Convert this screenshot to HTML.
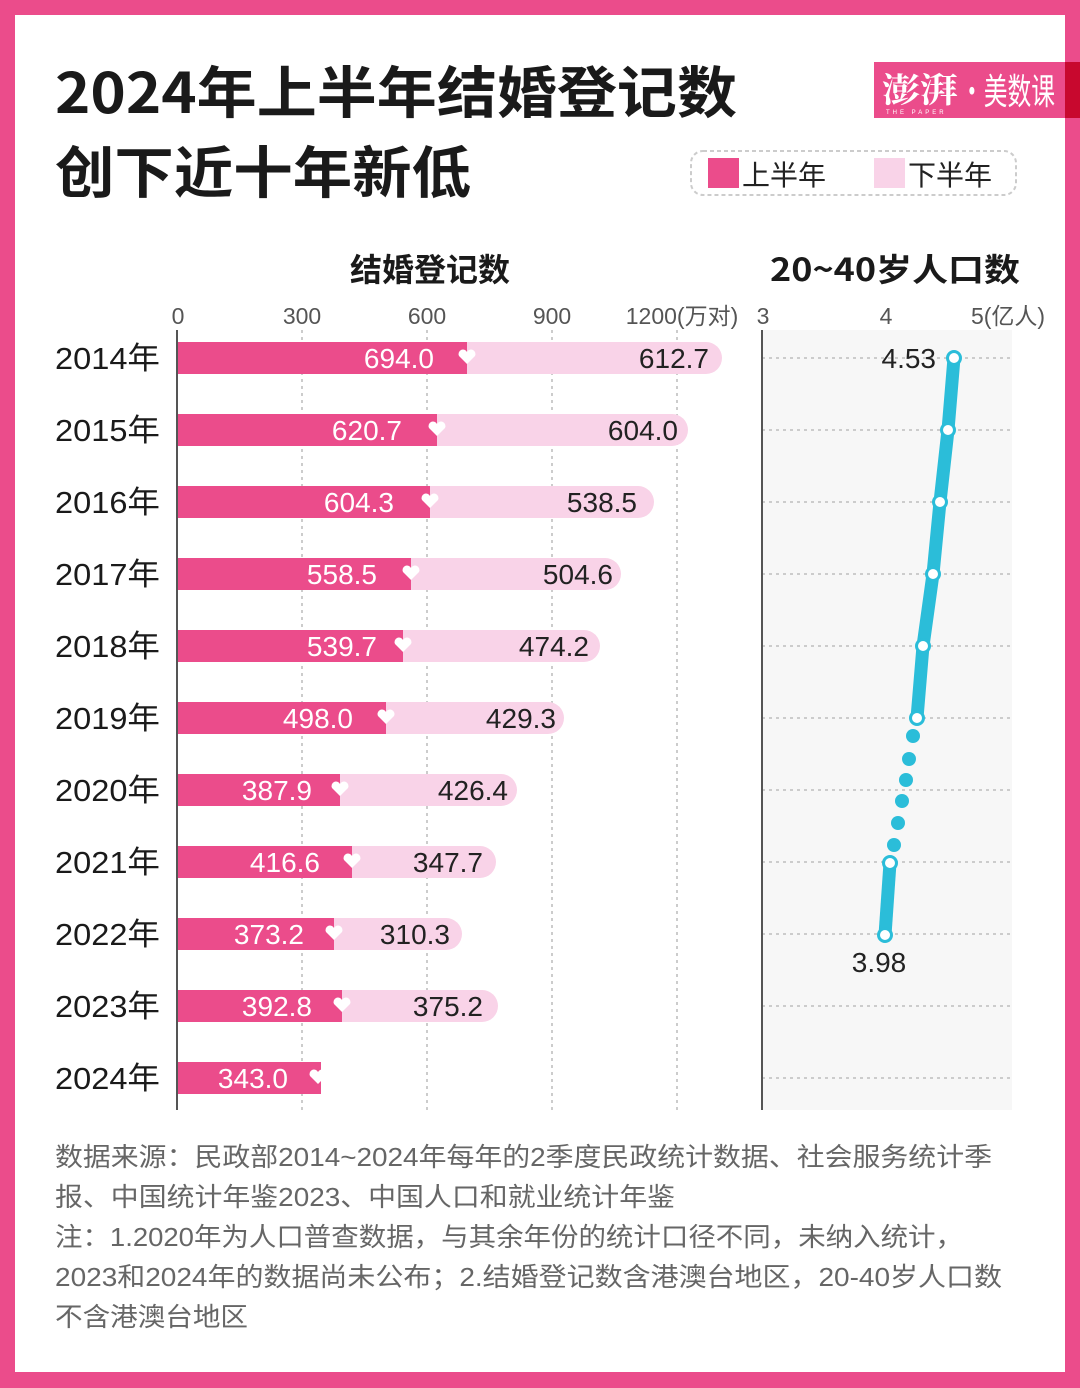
<!DOCTYPE html>
<html><head><meta charset="utf-8"><style>
html,body{margin:0;padding:0;background:#eb4c8b;}
svg{display:block;font-family:"Liberation Sans","Noto Sans CJK SC",sans-serif;}
</style></head><body>
<svg width="1080" height="1388" viewBox="0 0 1080 1388" xmlns="http://www.w3.org/2000/svg">
<defs><path id="h" d="M0,7 L-8,-1 A4.3,4.3 0 0 1 0,-5 A4.3,4.3 0 0 1 8,-1 Z" fill="#fff"/></defs>
<rect x="0" y="0" width="1080" height="1388" fill="#eb4c8b"/>
<rect x="15" y="15" width="1050" height="1357" fill="#fff"/>
<text x="55" y="113" font-size="56" font-weight="bold" fill="#1a1a1a" font-family="Noto Sans CJK SC,sans-serif" textLength="682" lengthAdjust="spacingAndGlyphs">2024年上半年结婚登记数</text>
<text x="55" y="193" font-size="56" font-weight="bold" fill="#1a1a1a" font-family="Noto Sans CJK SC,sans-serif" textLength="416" lengthAdjust="spacingAndGlyphs">创下近十年新低</text>
<rect x="874" y="62" width="191" height="56" fill="#eb4c8b"/>
<rect x="1065" y="62" width="15" height="56" fill="#c8082e"/>
<text x="882" y="102" font-size="34" fill="#fff" font-family="Noto Serif CJK SC,serif" font-weight="bold" textLength="76" lengthAdjust="spacingAndGlyphs">澎湃</text>
<text x="960" y="104" font-size="36" fill="#fff" font-family="Noto Sans CJK SC,sans-serif" textLength="95" lengthAdjust="spacingAndGlyphs">·美数课</text>
<text x="886" y="114" font-size="6" fill="#fff" letter-spacing="3">THE PAPER</text>
<rect x="691" y="151" width="325" height="44" rx="12" fill="none" stroke="#ccc" stroke-width="2" stroke-dasharray="4 3"/>
<rect x="708" y="158" width="31" height="30" fill="#eb4c8b"/>
<text x="742" y="185" font-size="28" fill="#222" font-family="Noto Sans CJK SC,sans-serif">上半年</text>
<rect x="874" y="158" width="31" height="30" fill="#f9d3e8"/>
<text x="908" y="185" font-size="28" fill="#222" font-family="Noto Sans CJK SC,sans-serif">下半年</text>
<text x="430" y="281" font-size="32" font-weight="bold" text-anchor="middle" fill="#1a1a1a" font-family="Noto Sans CJK SC,sans-serif">结婚登记数</text>
<text x="895" y="281" font-size="32" font-weight="bold" text-anchor="middle" fill="#1a1a1a" font-family="Noto Sans CJK SC,sans-serif" textLength="250" lengthAdjust="spacingAndGlyphs">20~40岁人口数</text>
<g font-size="23" fill="#555" text-anchor="middle">
<text x="178" y="324">0</text><text x="302" y="324">300</text><text x="427" y="324">600</text><text x="552" y="324">900</text><text x="682" y="324" font-family="Liberation Sans,Noto Sans CJK SC,sans-serif">1200(万对)</text>
<text x="763" y="324">3</text><text x="886" y="324">4</text><text x="1008" y="324" font-family="Liberation Sans,Noto Sans CJK SC,sans-serif">5(亿人)</text>
</g>
<g stroke="#ccc" stroke-width="2" stroke-dasharray="3 4">
<line x1="302" y1="330" x2="302" y2="1110"/><line x1="427" y1="330" x2="427" y2="1110"/><line x1="552" y1="330" x2="552" y2="1110"/><line x1="677" y1="330" x2="677" y2="1110"/>
</g>
<rect x="762" y="330" width="250" height="780" fill="#f7f7f7"/>
<g stroke="#ccc" stroke-width="2" stroke-dasharray="3 4">
<line x1="762" y1="358" x2="1012" y2="358"/><line x1="762" y1="430" x2="1012" y2="430"/><line x1="762" y1="502" x2="1012" y2="502"/><line x1="762" y1="574" x2="1012" y2="574"/><line x1="762" y1="646" x2="1012" y2="646"/><line x1="762" y1="718" x2="1012" y2="718"/><line x1="762" y1="790" x2="1012" y2="790"/><line x1="762" y1="862" x2="1012" y2="862"/><line x1="762" y1="934" x2="1012" y2="934"/><line x1="762" y1="1006" x2="1012" y2="1006"/><line x1="762" y1="1078" x2="1012" y2="1078"/>
</g>
<line x1="762" y1="330" x2="762" y2="1110" stroke="#555" stroke-width="2"/>
<line x1="177" y1="330" x2="177" y2="1110" stroke="#555" stroke-width="2"/>
<g font-size="31" fill="#1a1a1a" font-family="Liberation Sans,Noto Sans CJK SC,sans-serif">
<text x="55" y="369" textLength="105" lengthAdjust="spacingAndGlyphs">2014年</text><text x="55" y="441" textLength="105" lengthAdjust="spacingAndGlyphs">2015年</text><text x="55" y="513" textLength="105" lengthAdjust="spacingAndGlyphs">2016年</text><text x="55" y="585" textLength="105" lengthAdjust="spacingAndGlyphs">2017年</text><text x="55" y="657" textLength="105" lengthAdjust="spacingAndGlyphs">2018年</text><text x="55" y="729" textLength="105" lengthAdjust="spacingAndGlyphs">2019年</text><text x="55" y="801" textLength="105" lengthAdjust="spacingAndGlyphs">2020年</text><text x="55" y="873" textLength="105" lengthAdjust="spacingAndGlyphs">2021年</text><text x="55" y="945" textLength="105" lengthAdjust="spacingAndGlyphs">2022年</text><text x="55" y="1017" textLength="105" lengthAdjust="spacingAndGlyphs">2023年</text><text x="55" y="1089" textLength="105" lengthAdjust="spacingAndGlyphs">2024年</text>
</g>
<g>
<rect x="178" y="342" width="544" height="32" rx="16" fill="#f9d3e8"/><rect x="178" y="342" width="100" height="32" fill="#f9d3e8"/><rect x="178" y="342" width="289" height="32" fill="#eb4c8b"/>
<rect x="178" y="414" width="510" height="32" rx="16" fill="#f9d3e8"/><rect x="178" y="414" width="100" height="32" fill="#f9d3e8"/><rect x="178" y="414" width="259" height="32" fill="#eb4c8b"/>
<rect x="178" y="486" width="476" height="32" rx="16" fill="#f9d3e8"/><rect x="178" y="486" width="100" height="32" fill="#f9d3e8"/><rect x="178" y="486" width="252" height="32" fill="#eb4c8b"/>
<rect x="178" y="558" width="443" height="32" rx="16" fill="#f9d3e8"/><rect x="178" y="558" width="100" height="32" fill="#f9d3e8"/><rect x="178" y="558" width="233" height="32" fill="#eb4c8b"/>
<rect x="178" y="630" width="422" height="32" rx="16" fill="#f9d3e8"/><rect x="178" y="630" width="100" height="32" fill="#f9d3e8"/><rect x="178" y="630" width="225" height="32" fill="#eb4c8b"/>
<rect x="178" y="702" width="386" height="32" rx="16" fill="#f9d3e8"/><rect x="178" y="702" width="100" height="32" fill="#f9d3e8"/><rect x="178" y="702" width="208" height="32" fill="#eb4c8b"/>
<rect x="178" y="774" width="339" height="32" rx="16" fill="#f9d3e8"/><rect x="178" y="774" width="100" height="32" fill="#f9d3e8"/><rect x="178" y="774" width="162" height="32" fill="#eb4c8b"/>
<rect x="178" y="846" width="318" height="32" rx="16" fill="#f9d3e8"/><rect x="178" y="846" width="100" height="32" fill="#f9d3e8"/><rect x="178" y="846" width="174" height="32" fill="#eb4c8b"/>
<rect x="178" y="918" width="284" height="32" rx="16" fill="#f9d3e8"/><rect x="178" y="918" width="100" height="32" fill="#f9d3e8"/><rect x="178" y="918" width="156" height="32" fill="#eb4c8b"/>
<rect x="178" y="990" width="320" height="32" rx="16" fill="#f9d3e8"/><rect x="178" y="990" width="100" height="32" fill="#f9d3e8"/><rect x="178" y="990" width="164" height="32" fill="#eb4c8b"/>
<rect x="178" y="1062" width="143" height="32" fill="#eb4c8b"/>
</g>
<use href="#h" x="467" y="357"/><use href="#h" x="437" y="429"/><use href="#h" x="430" y="501"/><use href="#h" x="411" y="573"/><use href="#h" x="403" y="645"/><use href="#h" x="386" y="717"/><use href="#h" x="340" y="789"/><use href="#h" x="352" y="861"/><use href="#h" x="334" y="933"/><use href="#h" x="342" y="1005"/><use href="#h" x="318" y="1077"/>
<g font-size="28" text-anchor="end" fill="#fff">
<text x="434" y="368">694.0</text><text x="402" y="440">620.7</text><text x="394" y="512">604.3</text><text x="377" y="584">558.5</text><text x="377" y="656">539.7</text><text x="353" y="728">498.0</text><text x="312" y="800">387.9</text><text x="320" y="872">416.6</text><text x="304" y="944">373.2</text><text x="312" y="1016">392.8</text><text x="288" y="1088">343.0</text>
</g>
<g font-size="28" text-anchor="end" fill="#222">
<text x="709" y="368">612.7</text><text x="678" y="440">604.0</text><text x="637" y="512">538.5</text><text x="613" y="584">504.6</text><text x="589" y="656">474.2</text><text x="556" y="728">429.3</text><text x="508" y="800">426.4</text><text x="483" y="872">347.7</text><text x="450" y="944">310.3</text><text x="483" y="1016">375.2</text>
</g>
<polyline points="954,358 948,430 940,502 933,574 923,646 917,718" fill="none" stroke="#2bbdd9" stroke-width="13" stroke-linejoin="round"/>
<line x1="890" y1="863" x2="885" y2="935" stroke="#2bbdd9" stroke-width="13"/>
<g fill="#2bbdd9"><circle cx="913" cy="736" r="7"/><circle cx="909" cy="759" r="7"/><circle cx="906" cy="780" r="7"/><circle cx="902" cy="801" r="7"/><circle cx="898" cy="823" r="7"/><circle cx="894" cy="845" r="7"/></g>
<g fill="#fff" stroke="#2bbdd9" stroke-width="3">
<circle cx="954" cy="358" r="6.5"/><circle cx="948" cy="430" r="6.5"/><circle cx="940" cy="502" r="6.5"/><circle cx="933" cy="574" r="6.5"/><circle cx="923" cy="646" r="6.5"/><circle cx="917" cy="718" r="6.5"/><circle cx="890" cy="863" r="6.5"/><circle cx="885" cy="935" r="6.5"/>
</g>
<text x="936" y="368" font-size="28" fill="#222" text-anchor="end">4.53</text>
<text x="879" y="972" font-size="28" fill="#222" text-anchor="middle">3.98</text>
<g font-size="26" fill="#666" font-family="Liberation Sans,Noto Sans CJK SC,sans-serif" lengthAdjust="spacingAndGlyphs">
<text x="55" y="1166" textLength="937" lengthAdjust="spacingAndGlyphs">数据来源：民政部2014~2024年每年的2季度民政统计数据、社会服务统计季</text>
<text x="55" y="1206" textLength="620" lengthAdjust="spacingAndGlyphs">报、中国统计年鉴2023、中国人口和就业统计年鉴</text>
<text x="55" y="1246" textLength="908" lengthAdjust="spacingAndGlyphs">注：1.2020年为人口普查数据，与其余年份的统计口径不同，未纳入统计，</text>
<text x="55" y="1286" textLength="947" lengthAdjust="spacingAndGlyphs">2023和2024年的数据尚未公布；2.结婚登记数含港澳台地区，20-40岁人口数</text>
<text x="55" y="1326" textLength="193" lengthAdjust="spacingAndGlyphs">不含港澳台地区</text>
</g>
</svg>
</body></html>
